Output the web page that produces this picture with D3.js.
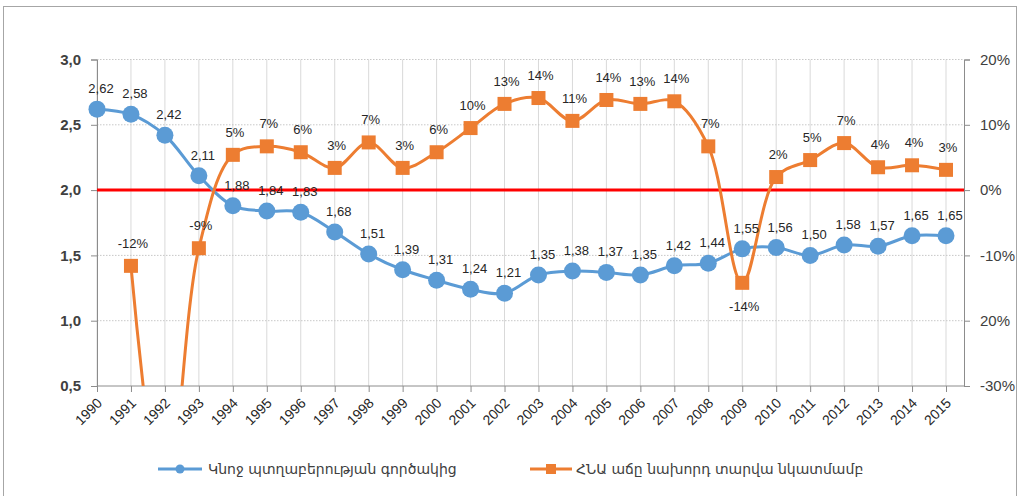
<!DOCTYPE html>
<html lang="hy">
<head>
<meta charset="UTF-8">
<title>Fertility rate and GDP growth</title>
<script src="https://d3js.org/d3.v7.min.js"></script>
<style>
  body { margin: 0; background: #fff; }
  svg { display: block; font-family: "Liberation Sans", Arial, sans-serif; }
</style>
</head>
<body>
<svg width="1020" height="496"></svg>
<script>
// data
const years = d3.range(1990, 2016);
const fertility = [2.62, 2.58, 2.42, 2.11, 1.88, 1.84, 1.83, 1.68, 1.51, 1.39, 1.31, 1.24, 1.21,
  1.35, 1.38, 1.37, 1.35, 1.42, 1.44, 1.55, 1.56, 1.50, 1.58, 1.57, 1.65, 1.65];
// GDP growth, %, 1990 missing; 1992 falls far below the axis
const gdpGrowth = [null, -11.6, -50, -8.9, 5.4, 6.7, 5.8, 3.4, 7.3, 3.4, 5.8, 9.5, 13.2,
  14.1, 10.6, 13.8, 13.2, 13.6, 6.7, -14.2, 2.0, 4.6, 7.2, 3.5, 3.8, 3.1];
const gdpLabels = [null, "-12%", null, "-9%", "5%", "7%", "6%", "3%", "7%", "3%", "6%", "10%", "13%",
  "14%", "11%", "14%", "13%", "14%", "7%", "-14%", "2%", "5%", "7%", "4%", "4%", "3%"];
const leftTicks = [3.0, 2.5, 2.0, 1.5, 1.0, 0.5];
const rightTicks = [20, 10, 0, -10, -20, -30];
const rightTickLabels = ["20%", "10%", "0%", "-10%", "20%", "-30%"];
const legendNames = ["Կնոջ պտղաբերության գործակից", "ՀՆԱ աճը նախորդ տարվա նկատմամբ"];

const blue = "#5b9bd5", orange = "#ed7d31";
const svg = d3.select("svg");

// frame
svg.append("rect").attr("x", 3.5).attr("y", 6.5).attr("width", 1013).attr("height", 500)
  .attr("fill", "none").attr("stroke", "#a6a6a6");

const x0 = 97, x1 = 964, yTop = 59.5, yBot = 386;
const x = d3.scaleLinear().domain([1990, 2015.53]).range([x0, x1]);
const yL = d3.scaleLinear().domain([0.5, 3.0]).range([yBot, yTop]);
const yR = d3.scaleLinear().domain([-30, 20]).range([yBot, yTop]);

// grid
svg.append("g").selectAll("line").data(years).join("line")
  .attr("x1", d => x(d)).attr("x2", d => x(d))
  .attr("y1", yTop).attr("y2", yBot)
  .attr("stroke", "#d9d9d9").attr("stroke-width", 1);
svg.append("g").selectAll("line").data(leftTicks.filter(d => d > 0.5)).join("line")
  .attr("x1", x0).attr("x2", x1)
  .attr("y1", d => yL(d)).attr("y2", d => yL(d))
  .attr("stroke", "#c8c8c8").attr("stroke-dasharray", "1.5,1.5");

// axes
const axisColor = "#8c8c8c";
const gx = svg.append("g").attr("transform", `translate(0,${yBot})`)
  .call(d3.axisBottom(x).tickValues(years).tickSize(6).tickFormat(""));
gx.select(".domain").attr("stroke", axisColor).attr("d", `M${x0},0H${x1}`);
gx.selectAll(".tick line").attr("stroke", axisColor);
svg.append("g").selectAll("text").data(years).join("text")
  .attr("transform", d => `translate(${x(d) + 6},${yBot + 18}) rotate(-45)`)
  .attr("text-anchor", "end")
  .attr("font-size", 14).attr("fill", "#262626")
  .text(d => d);

const gl = svg.append("g").attr("transform", `translate(${x0},0)`)
  .call(d3.axisLeft(yL).tickValues(leftTicks).tickSize(6).tickPadding(10)
    .tickFormat(d => d3.format(".1f")(d).replace(".", ",")));
gl.select(".domain").attr("stroke", axisColor);
gl.selectAll(".tick line").attr("stroke", axisColor);
gl.selectAll("text").attr("font-size", 15).attr("font-weight", "bold").attr("fill", "#404040");

const gr = svg.append("g").attr("transform", `translate(${x1},0)`)
  .call(d3.axisRight(yR).tickValues(rightTicks).tickSize(6).tickPadding(10)
    .tickFormat((d, i) => rightTickLabels[i]));
gr.select(".domain").attr("stroke", axisColor);
gr.selectAll(".tick line").attr("stroke", axisColor);
gr.selectAll("text").attr("font-size", 15).attr("fill", "#404040");

// clip
svg.append("clipPath").attr("id", "plot").append("rect")
  .attr("x", x0).attr("y", yTop - 20).attr("width", x1 - x0).attr("height", yBot - yTop + 20);

// red reference line at 0% / 2,0
svg.append("line").attr("x1", x0).attr("x2", x1)
  .attr("y1", yR(0)).attr("y2", yR(0))
  .attr("stroke", "#ff0000").attr("stroke-width", 3);

// fertility series
const fertPts = years.map((yr, i) => ({ yr, v: fertility[i] }));
svg.append("path").datum(fertPts)
  .attr("d", d3.line().x(d => x(d.yr)).y(d => yL(d.v)).curve(d3.curveCatmullRom.alpha(0.5)))
  .attr("fill", "none").attr("stroke", blue).attr("stroke-width", 3);
svg.append("g").selectAll("circle").data(fertPts).join("circle")
  .attr("cx", d => x(d.yr)).attr("cy", d => yL(d.v)).attr("r", 8.5)
  .attr("fill", blue);

// GDP growth series
const gdpPts = years.map((yr, i) => ({ yr, v: gdpGrowth[i], label: gdpLabels[i] }))
  .filter(d => d.v !== null);
svg.append("g").attr("clip-path", "url(#plot)")
  .append("path").datum(gdpPts)
  .attr("d", d3.line().x(d => x(d.yr)).y(d => yR(d.v)).curve(d3.curveCatmullRom.alpha(0.5)))
  .attr("fill", "none").attr("stroke", orange).attr("stroke-width", 3);
svg.append("g").selectAll("rect").data(gdpPts.filter(d => d.v >= -30)).join("rect")
  .attr("x", d => x(d.yr) - 7).attr("y", d => yR(d.v) - 7)
  .attr("width", 14).attr("height", 14).attr("fill", orange);

// value labels
svg.append("g").selectAll("text").data(fertPts).join("text")
  .attr("x", d => x(d.yr) + 4).attr("y", d => yL(d.v) - 16)
  .attr("text-anchor", "middle").attr("font-size", 13).attr("fill", "#262626")
  .text(d => d3.format(".2f")(d.v).replace(".", ","));
svg.append("g").selectAll("text").data(gdpPts.filter(d => d.label)).join("text")
  .attr("x", d => x(d.yr) + 2)
  .attr("y", d => d.v < -12 ? yR(d.v) + 28 : yR(d.v) - 18)
  .attr("text-anchor", "middle").attr("font-size", 13).attr("fill", "#262626")
  .text(d => d.label);

// legend
const leg = svg.append("g").attr("font-size", 14).attr("fill", "#404040");
leg.append("line").attr("x1", 158).attr("x2", 202).attr("y1", 469).attr("y2", 469)
  .attr("stroke", blue).attr("stroke-width", 3);
leg.append("circle").attr("cx", 180).attr("cy", 469).attr("r", 4.5).attr("fill", blue);
leg.append("text").attr("x", 208).attr("y", 474).attr("font-family", "DejaVu Sans")
  .text(legendNames[0]);
leg.append("line").attr("x1", 530).attr("x2", 572).attr("y1", 469).attr("y2", 469)
  .attr("stroke", orange).attr("stroke-width", 3);
leg.append("rect").attr("x", 546).attr("y", 464).attr("width", 10).attr("height", 10).attr("fill", orange);
leg.append("text").attr("x", 576).attr("y", 474).attr("font-family", "DejaVu Sans")
  .text(legendNames[1]);
</script>
</body>
</html>
